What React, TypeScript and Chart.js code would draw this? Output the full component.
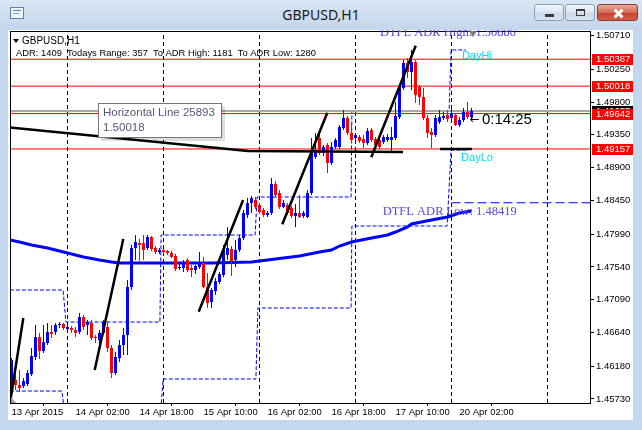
import React, { useEffect, useRef } from "react";
import { Chart, registerables } from "chart.js";

Chart.register(...registerables);

// ---------- candle data (GBPUSD H1, bar 0 = 13 Apr 10:00) ----------
const opens = [
  1.45921, 1.45989, 1.45921, 1.45907, 1.45934, 1.46071, 1.46305, 1.46579, 1.46387, 1.46496,
  1.46647, 1.46647, 1.46743, 1.46757, 1.46688, 1.46702, 1.46675, 1.46647, 1.46853, 1.46743,
  1.46771, 1.46579, 1.46538, 1.46634, 1.46716, 1.46428, 1.46085, 1.46291, 1.46469, 1.46606,
  1.47264, 1.47799, 1.47867, 1.47867, 1.47799, 1.4795, 1.47799, 1.47744, 1.47771, 1.47758,
  1.4773, 1.47689, 1.47525, 1.47525, 1.47634, 1.47525, 1.47497, 1.47538, 1.47593, 1.47264,
  1.47059, 1.47209, 1.47333, 1.47429, 1.47703, 1.47785, 1.47634, 1.47771, 1.47936, 1.48251,
  1.48416, 1.48457, 1.48388, 1.4832, 1.48251, 1.48279, 1.48676, 1.48553, 1.48361, 1.48388,
  1.48347, 1.48238, 1.48279, 1.48238, 1.48224, 1.48553, 1.49047, 1.49307, 1.49101, 1.49211,
  1.48964, 1.49184, 1.49184, 1.49444, 1.49581, 1.49376, 1.49307, 1.49321, 1.49293, 1.49238,
  1.49417, 1.49293, 1.4928, 1.49252, 1.4928, 1.4928, 1.49307, 1.49595, 1.49993, 1.50335,
  1.50212, 1.50349, 1.50006, 1.49869, 1.49581, 1.49389, 1.49348, 1.49526, 1.49581, 1.49622,
  1.49581, 1.49622, 1.49485, 1.49554, 1.49663, 1.49595,
];
const highs = [
  1.46291, 1.46099, 1.46126, 1.46017, 1.46126, 1.46428, 1.46743, 1.46634, 1.46743, 1.46771,
  1.46743, 1.46771, 1.46784, 1.46771, 1.46743, 1.4673, 1.46716, 1.46908, 1.4688, 1.46812,
  1.46812, 1.46606, 1.46675, 1.46812, 1.46784, 1.46469, 1.46373, 1.46538, 1.46702, 1.4736,
  1.4784, 1.47977, 1.47922, 1.47977, 1.47977, 1.47963, 1.47826, 1.47799, 1.47785, 1.47771,
  1.47758, 1.47717, 1.47593, 1.47634, 1.47662, 1.47566, 1.47566, 1.47744, 1.47676, 1.47456,
  1.47251, 1.47388, 1.4747, 1.4784, 1.48087, 1.47826, 1.47909, 1.47977, 1.4832, 1.48484,
  1.48512, 1.48498, 1.48416, 1.48347, 1.48306, 1.48759, 1.48717, 1.48594, 1.48457, 1.48416,
  1.48375, 1.48402, 1.48526, 1.48306, 1.48594, 1.49307, 1.49376, 1.49389, 1.49211, 1.49238,
  1.49252, 1.49307, 1.49485, 1.49691, 1.49609, 1.49485, 1.49376, 1.49348, 1.49348, 1.49444,
  1.49444, 1.49321, 1.49307, 1.49348, 1.49362, 1.49458, 1.49801, 1.50034, 1.50376, 1.50404,
  1.50513, 1.50376, 1.50034, 1.49993, 1.49622, 1.49444, 1.49622, 1.49691, 1.49663, 1.49691,
  1.49718, 1.4965, 1.49595, 1.49718, 1.49801, 1.49718,
];
const lows = [
  1.45784, 1.45852, 1.45825, 1.4588, 1.45907, 1.46044, 1.46263, 1.46277, 1.46359, 1.46469,
  1.46565, 1.46606, 1.46702, 1.46675, 1.46661, 1.46634, 1.46579, 1.4662, 1.46675, 1.46606,
  1.46538, 1.46496, 1.46469, 1.46606, 1.46373, 1.46017, 1.46058, 1.46236, 1.46332, 1.46332,
  1.47223, 1.47634, 1.47621, 1.47634, 1.47771, 1.47758, 1.47717, 1.47717, 1.47717, 1.47703,
  1.47662, 1.47484, 1.47497, 1.4747, 1.4747, 1.47401, 1.47442, 1.47511, 1.47251, 1.46976,
  1.46976, 1.47155, 1.47305, 1.47401, 1.47634, 1.47415, 1.47538, 1.47744, 1.47909, 1.4821,
  1.48279, 1.48334, 1.48265, 1.48224, 1.48224, 1.48251, 1.48498, 1.48334, 1.48347, 1.48251,
  1.4821, 1.48087, 1.4821, 1.4821, 1.4821, 1.48526, 1.49019, 1.49074, 1.4906, 1.48827,
  1.48937, 1.49156, 1.49156, 1.49417, 1.49348, 1.49252, 1.49238, 1.49238, 1.4917, 1.49211,
  1.49252, 1.49184, 1.49156, 1.49225, 1.49252, 1.49115, 1.4928, 1.49568, 1.49965, 1.5013,
  1.49965, 1.49787, 1.49759, 1.49554, 1.49307, 1.4917, 1.49321, 1.49499, 1.49554, 1.49526,
  1.49554, 1.49472, 1.49458, 1.49526, 1.49568, 1.49568,
];
const closes = [
  1.46263, 1.45921, 1.4588, 1.45975, 1.46085, 1.46318, 1.46579, 1.46387, 1.4651, 1.46647,
  1.4662, 1.46743, 1.46757, 1.46702, 1.46716, 1.46675, 1.46634, 1.46853, 1.46716, 1.46784,
  1.46565, 1.46565, 1.46634, 1.46784, 1.46428, 1.46085, 1.46305, 1.46469, 1.46606, 1.47264,
  1.47799, 1.47881, 1.4784, 1.47771, 1.4795, 1.47785, 1.47744, 1.47771, 1.47744, 1.4773,
  1.47676, 1.47511, 1.47538, 1.47607, 1.47497, 1.47497, 1.47552, 1.47607, 1.47264, 1.47045,
  1.47223, 1.47346, 1.47442, 1.47771, 1.47799, 1.47621, 1.47771, 1.47936, 1.48279, 1.48416,
  1.48484, 1.48361, 1.48292, 1.48251, 1.48279, 1.48676, 1.48526, 1.48361, 1.48416, 1.48279,
  1.48238, 1.48279, 1.48224, 1.48279, 1.48553, 1.49142, 1.49142, 1.49101, 1.49184, 1.48964,
  1.49184, 1.4928, 1.49458, 1.49581, 1.49376, 1.4928, 1.49348, 1.49266, 1.49238, 1.49403,
  1.4928, 1.49211, 1.49184, 1.49321, 1.49321, 1.49321, 1.49609, 1.50006, 1.50335, 1.50212,
  1.50349, 1.49897, 1.49869, 1.49581, 1.49376, 1.49348, 1.49581, 1.49595, 1.49609, 1.49568,
  1.4965, 1.49485, 1.49554, 1.49663, 1.49595, 1.49677,
];

// moving average (read at selected bars)
const maBars = [-0.4, 2, 5, 9, 14, 18, 22, 25, 27, 40, 50, 60, 64, 68, 72, 77, 80, 82, 85, 90, 94, 96, 99, 100, 105, 109, 112, 115];
const maValues = [
  1.47909, 1.47881, 1.4784, 1.47799, 1.4773, 1.47676, 1.47634, 1.47607, 1.47593, 1.47593,
  1.47593, 1.47607, 1.47634, 1.47662, 1.47689, 1.47744, 1.47771, 1.47826, 1.47881, 1.47936,
  1.47977, 1.48018, 1.48087, 1.48128, 1.48183, 1.48224, 1.48279, 1.48306,
];

// daily ADR projection steps (DayHi / DayLo)
const adrHiBars = [-0.4, 12.9, 13.6, 37.1, 37.4, 60.9, 61.4, 84.9, 85.1, 109.4, 109.9, 113.6];
const adrHiValues = [1.47223, 1.47223, 1.46784, 1.46784, 1.47977, 1.47977, 1.48498, 1.48498, 1.49677, 1.49677, 1.50514, 1.50514];
const adrLoBars = [-0.4, 12.6, 13.6, 37.1, 37.9, 61.1, 61.6, 84.9, 85.1, 108.9, 109.9, 114.1];
const adrLoValues = [1.45838, 1.45838, 1.454, 1.454, 1.46003, 1.46003, 1.46976, 1.46976, 1.48101, 1.48101, 1.49142, 1.49142];

const adrHighLevel = 1.5088;
const adrLowLevel = 1.48419;
const adrLowLineStartBar = 110;

const separatorBars = [14, 38, 62, 86, 110, 134];
const hLineLevels = [1.50387, 1.50018, 1.49642, 1.49157];
const bidPrice = 1.49677;

const trendStartBars = [-0.25, 20.8, 46.8, 67.7, 89.95];
const trendStartValues = [1.45715, 1.46126, 1.46926, 1.48124, 1.49042];
const trendEndBars = [2.95, 27.95, 57.9, 78.95, 101.05];
const trendEndValues = [1.46839, 1.47922, 1.48457, 1.49654, 1.50572];
const supportBars = [-0.4, 59.1, 97.9];
const supportValues = [1.49451, 1.49128, 1.49115];
const shortSupportBars = [107.1, 115.1];
const shortSupportValues = [1.49156, 1.49156];

const xTickBars = [0, 16, 32, 48, 64, 80, 96, 112];
const xTickLabels = ["13 Apr 2015", "14 Apr 02:00", "14 Apr 18:00", "15 Apr 10:00", "16 Apr 02:00", "16 Apr 18:00", "17 Apr 10:00", "20 Apr 02:00"];
const yTicks = [1.4573, 1.4618, 1.4664, 1.4709, 1.4754, 1.4799, 1.4845, 1.489, 1.4935, 1.498, 1.5025, 1.5071];

const symbolTitle = "GBPUSD,H1";
const adrInfo = "ADR: 1409  Todays Range: 357  To ADR High: 1181  To ADR Low: 1280";
const hLineName = "Horizontal Line 25893";
const countdown = "0:14:25";

const X_MIN = -0.375;
const X_MAX = 144.625;
const Y_MIN = 1.45674;
const Y_MAX = 1.50774;

const BULL = "#0000ff";
const BEAR = "#ff0000";

const overlayPlugin = {
  id: "mt4overlay",
  afterDraw(chart: any) {
    const { ctx, chartArea: a } = chart;
    const xs = chart.scales.x;
    const ys = chart.scales.y;
    const px = (b: number) => xs.getPixelForValue(b);
    const py = (v: number) => ys.getPixelForValue(v);
    ctx.save();
    ctx.setLineDash([]);

    // frame
    ctx.strokeStyle = "#000";
    ctx.lineWidth = 1;
    ctx.strokeRect(a.left + 0.5, a.top + 0.5, a.right - a.left, a.bottom - a.top);

    // bottom-left marker
    ctx.fillStyle = "#9a9a9a";
    ctx.beginPath();
    ctx.moveTo(a.left + 1, a.bottom - 6);
    ctx.lineTo(a.left + 1, a.bottom);
    ctx.lineTo(a.left + 6, a.bottom);
    ctx.closePath();
    ctx.fill();

    // header texts
    ctx.fillStyle = "#000";
    ctx.beginPath();
    ctx.moveTo(5, 9);
    ctx.lineTo(11, 9);
    ctx.lineTo(8, 13);
    ctx.closePath();
    ctx.fill();
    ctx.textAlign = "left";
    ctx.textBaseline = "middle";
    ctx.font = '10px "Liberation Sans", Arial, sans-serif';
    ctx.fillText(symbolTitle, 14, 11);
    ctx.font = '9.4px "Liberation Sans", Arial, sans-serif';
    ctx.fillText(adrInfo, 8, 23);

    // ADR texts
    ctx.font = '12.5px "Liberation Serif", "Times New Roman", serif';
    ctx.fillStyle = "#5a46e6";
    ctx.textBaseline = "alphabetic";
    ctx.fillText("DTFL ADR High: " + adrHighLevel.toFixed(5), px(92.1), py(adrHighLevel) + 12.5);
    ctx.fillText("DTFL ADR Low: " + adrLowLevel.toFixed(5), px(92.8), py(adrLowLevel) + 12.5);

    // top shift marker
    ctx.fillStyle = "#7a7a7a";
    ctx.beginPath();
    ctx.moveTo(461, 1);
    ctx.lineTo(469, 1);
    ctx.lineTo(465, 7);
    ctx.closePath();
    ctx.fill();

    // DayHi / DayLo
    ctx.font = '11px "Liberation Sans", Arial, sans-serif';
    ctx.fillStyle = "#00e1f0";
    ctx.textBaseline = "middle";
    ctx.fillText("DayHi", px(112.6), py(adrHiValues[adrHiValues.length - 1]) + 6.5);
    ctx.fillText("DayLo", px(112.4), py(adrLoValues[adrLoValues.length - 1]) + 8);

    // countdown
    const cy = py(bidPrice) + 8.5;
    ctx.fillStyle = "#000";
    ctx.font = '15px "Liberation Sans", Arial, sans-serif';
    ctx.fillText(countdown, px(117.6), cy);
    ctx.font = '12px "DejaVu Sans", sans-serif';
    ctx.textAlign = "right";
    ctx.fillText("\u2190", px(117.6) - 2, cy);
    ctx.textAlign = "left";

    // hover tooltip of the horizontal line
    const bx = 90, by = 73, bw = 124, bh = 35;
    ctx.fillStyle = "rgba(0,0,0,0.13)";
    ctx.fillRect(bx + 3, by + 3, bw, bh);
    ctx.fillStyle = "#fff";
    ctx.fillRect(bx, by, bw, bh);
    ctx.strokeStyle = "#767676";
    ctx.strokeRect(bx + 0.5, by + 0.5, bw - 1, bh - 1);
    ctx.fillStyle = "#585876";
    ctx.font = '11.5px "Liberation Sans", Arial, sans-serif';
    ctx.fillText(hLineName, bx + 5, by + 10);
    ctx.fillText(hLineLevels[1].toFixed(5), bx + 5, by + 25);

    // price tags on the axis
    const tag = (v: number, bg: string) => {
      const y = Math.round(py(v));
      ctx.fillStyle = bg;
      ctx.fillRect(a.right + 2, y - 5, chart.width - a.right - 2, 11);
      ctx.fillStyle = "#fff";
      ctx.font = '9.5px "Liberation Sans", Arial, sans-serif';
      ctx.textBaseline = "middle";
      ctx.fillText(v.toFixed(5), a.right + 6, y + 0.5);
    };
    tag(bidPrice, "#000");
    hLineLevels.forEach((v) => tag(v, "#ff0000"));

    ctx.restore();
  },
};

function buildDatasets() {
  const idx = opens.map((_, i) => i);
  const colorFor = (i: number) => (closes[i] >= opens[i] ? BULL : BEAR);

  const sepData: any[] = [];
  separatorBars.forEach((b) => {
    sepData.push({ x: b, y: Y_MIN }, { x: b, y: Y_MAX }, { x: b, y: null });
  });
  const redData: any[] = [];
  hLineLevels.forEach((v) => {
    redData.push({ x: X_MIN, y: v }, { x: X_MAX, y: v }, { x: X_MAX, y: null });
  });
  const trendData: any[] = [];
  trendStartBars.forEach((b, k) => {
    trendData.push({ x: b, y: trendStartValues[k] }, { x: trendEndBars[k], y: trendEndValues[k] }, { x: trendEndBars[k], y: null });
  });
  supportBars.forEach((b, k) => trendData.push({ x: b, y: supportValues[k] }));
  trendData.push({ x: 98, y: null });
  shortSupportBars.forEach((b, k) => trendData.push({ x: b, y: shortSupportValues[k] }));

  const lineBase = { type: "line", pointRadius: 0, tension: 0, fill: false, spanGaps: false };

  return [
    {
      ...lineBase,
      label: "trend",
      data: trendData,
      borderColor: "#000",
      borderWidth: 2.5,
      order: 1,
    },
    {
      type: "bar",
      label: "body",
      data: idx.map((i) => ({ x: i, y: [opens[i], closes[i]] })),
      backgroundColor: (c: any) => colorFor(c.dataIndex),
      barThickness: 3,
      minBarLength: 1,
      grouped: false,
      borderWidth: 0,
      inflateAmount: 0,
      order: 2,
    },
    {
      type: "bar",
      label: "wick",
      data: idx.map((i) => ({ x: i, y: [lows[i], highs[i]] })),
      backgroundColor: (c: any) => colorFor(c.dataIndex),
      barThickness: 1,
      grouped: false,
      borderWidth: 0,
      inflateAmount: 0,
      order: 3,
    },
    {
      ...lineBase,
      label: "MA",
      data: maBars.map((b, k) => ({ x: b, y: maValues[k] })),
      borderColor: "#0000ff",
      borderWidth: 3,
      order: 4,
    },
    {
      ...lineBase,
      label: "bid",
      data: [{ x: X_MIN, y: bidPrice }, { x: X_MAX, y: bidPrice }],
      borderColor: "#a8a8a8",
      borderWidth: 2,
      order: 5,
    },
    {
      ...lineBase,
      label: "levels",
      data: redData,
      borderColor: "#ff0000",
      borderWidth: 1,
      order: 5,
    },
    {
      ...lineBase,
      label: "adrLowLine",
      data: [{ x: adrLowLineStartBar, y: adrLowLevel }, { x: X_MAX, y: adrLowLevel }],
      borderColor: "#0000ff",
      borderWidth: 1,
      borderDash: [9, 4],
      order: 6,
    },
    {
      ...lineBase,
      label: "dayHi",
      data: adrHiBars.map((b, k) => ({ x: b, y: adrHiValues[k] })),
      borderColor: "#0000ff",
      borderWidth: 1,
      borderDash: [4, 2],
      order: 6,
    },
    {
      ...lineBase,
      label: "dayLo",
      data: adrLoBars.map((b, k) => ({ x: b, y: adrLoValues[k] })),
      borderColor: "#0000ff",
      borderWidth: 1,
      borderDash: [4, 2],
      order: 6,
    },
    {
      ...lineBase,
      label: "sep",
      data: sepData,
      borderColor: "#000",
      borderWidth: 1,
      borderDash: [4, 3],
      order: 7,
    },
  ];
}

export default function App() {
  const canvasRef = useRef<HTMLCanvasElement | null>(null);

  useEffect(() => {
    if (!canvasRef.current) return;
    const axisFont = { family: '"Liberation Sans", Arial, sans-serif', size: 9.5 };
    const zeroPad = (s: any) => {
      s.paddingLeft = 0;
      s.paddingRight = 0;
      s.paddingTop = 0;
      s.paddingBottom = 0;
    };
    const chart = new Chart(canvasRef.current, {
      type: "bar",
      data: { datasets: buildDatasets() as any },
      options: {
        animation: false,
        responsive: false,
        devicePixelRatio: 1,
        events: [],
        layout: { padding: { left: 2, top: 1, right: 0, bottom: 0 } },
        plugins: { legend: { display: false }, tooltip: { enabled: false } },
        scales: {
          x: {
            type: "linear",
            position: "bottom",
            min: X_MIN,
            max: X_MAX,
            offset: false,
            border: { display: false },
            grid: { display: true, drawOnChartArea: false, drawTicks: true, tickLength: 3, color: "#000", tickColor: "#000" },
            ticks: {
              color: "#000",
              font: axisFont,
              align: "start",
              padding: 1,
              maxRotation: 0,
              minRotation: 0,
              autoSkip: false,
              callback: (_v: any, i: number) => xTickLabels[i],
            },
            afterBuildTicks: (s: any) => {
              s.ticks = xTickBars.map((v) => ({ value: v }));
            },
            afterFit: (s: any) => {
              s.height = 17;
              zeroPad(s);
            },
          },
          y: {
            type: "linear",
            position: "right",
            min: Y_MIN,
            max: Y_MAX,
            border: { display: false },
            grid: { display: true, drawOnChartArea: false, drawTicks: true, tickLength: 4, color: "#000", tickColor: "#000" },
            ticks: {
              color: "#000",
              font: axisFont,
              padding: 2,
              autoSkip: false,
              callback: (v: any) => Number(v).toFixed(5),
            },
            afterBuildTicks: (s: any) => {
              s.ticks = yTicks.map((v) => ({ value: v }));
            },
            afterFit: (s: any) => {
              s.width = 43;
              zeroPad(s);
            },
          },
        },
      } as any,
      plugins: [overlayPlugin],
    });
    return () => chart.destroy();
  }, []);

  const btn: React.CSSProperties = {
    position: "absolute",
    top: 4,
    height: 17,
    borderRadius: 3,
    border: "1px solid #8b9fbb",
    boxSizing: "border-box",
    background: "linear-gradient(#f4f7fb, #dae4f0 50%, #cbd8e8 51%, #d9e4f1)",
  };

  return (
    <div
      style={{
        position: "fixed",
        left: 0,
        top: 0,
        width: 642,
        height: 430,
        overflow: "hidden",
        background: "#c3d7ee",
        fontFamily: '"Noto Sans", sans-serif',
      }}
    >
      <div
        style={{
          position: "absolute",
          left: 0,
          top: 0,
          width: 642,
          height: 30,
          background: "linear-gradient(#d9e6f4, #c3d6ec)",
        }}
      />
      {/* window icon */}
      <div
        style={{
          position: "absolute",
          left: 10,
          top: 7,
          width: 14,
          height: 12,
          border: "1px solid #5b83b8",
          background: "#eef4fb",
          boxSizing: "border-box",
        }}
      >
        <div style={{ position: "absolute", left: 2, top: 2, width: 8, height: 1, background: "#5b83b8" }} />
        <div style={{ position: "absolute", left: 2, top: 5, width: 6, height: 1, background: "#7fa0cc" }} />
      </div>
      <div
        style={{
          position: "absolute",
          left: 0,
          top: 5,
          width: 642,
          textAlign: "center",
          fontSize: 14,
          lineHeight: "20px",
          color: "#1b1b1b",
        }}
      >
        {symbolTitle}
      </div>
      {/* minimize */}
      <div style={{ ...btn, left: 534, width: 30 }}>
        <div style={{ position: "absolute", left: 10, top: 9, width: 9, height: 3, background: "#3b3b3b" }} />
      </div>
      {/* maximize */}
      <div style={{ ...btn, left: 565, width: 30 }}>
        <div
          style={{
            position: "absolute",
            left: 10,
            top: 4,
            width: 9,
            height: 7,
            border: "1px solid #3b3b3b",
            borderTopWidth: 2,
            boxSizing: "border-box",
          }}
        />
      </div>
      {/* close */}
      <div
        style={{
          ...btn,
          left: 597,
          width: 41,
          border: "1px solid #8d3b2e",
          background: "linear-gradient(#e9a99b, #d46b55 50%, #c4402a 51%, #d0604a)",
        }}
      >
        <div
          style={{
            position: "absolute",
            left: 15,
            top: 7,
            width: 11,
            height: 3,
            background: "#fff",
            transform: "rotate(45deg)",
          }}
        />
        <div
          style={{
            position: "absolute",
            left: 15,
            top: 7,
            width: 11,
            height: 3,
            background: "#fff",
            transform: "rotate(-45deg)",
          }}
        />
      </div>
      {/* client area */}
      <div style={{ position: "absolute", left: 8, top: 30, width: 625, height: 390, background: "#fff" }}>
        <canvas ref={canvasRef} width={625} height={390} style={{ display: "block", width: 625, height: 390 }} />
      </div>
    </div>
  );
}
